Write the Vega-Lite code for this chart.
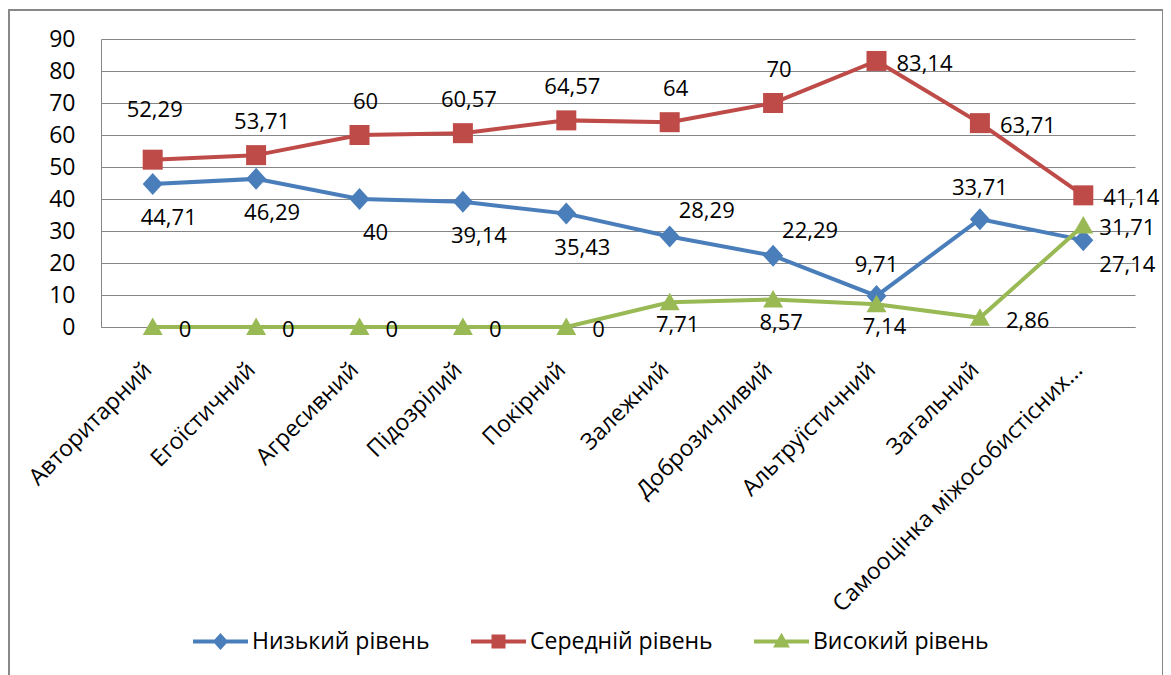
{
  "$schema": "https://vega.github.io/schema/vega-lite/v6.json",
  "width": 1154,
  "height": 700,
  "padding": {"left": 9, "top": 10, "right": 0, "bottom": 0},
  "autosize": {"type": "none"},
  "background": "white",
  "config": {
    "font": "Open Sans",
    "locale": {"number": {"decimal": ",", "thousands": " ", "grouping": [3], "currency": ["", " грн"]}},
    "view": {"stroke": "#888888", "strokeWidth": 2},
    "legend": {"symbolStrokeWidth": 4, "symbolOpacity": 1}
  },
  "data": {
    "values": [
      {"category": "Авторитарний", "level": "Низький рівень", "value": 44.71},
      {"category": "Егоїстичний", "level": "Низький рівень", "value": 46.29},
      {"category": "Агресивний", "level": "Низький рівень", "value": 40},
      {"category": "Підозрілий", "level": "Низький рівень", "value": 39.14},
      {"category": "Покірний", "level": "Низький рівень", "value": 35.43},
      {"category": "Залежний", "level": "Низький рівень", "value": 28.29},
      {"category": "Доброзичливий", "level": "Низький рівень", "value": 22.29},
      {"category": "Альтруїстичний", "level": "Низький рівень", "value": 9.71},
      {"category": "Загальний", "level": "Низький рівень", "value": 33.71},
      {"category": "Самооцінка міжособистісних...", "level": "Низький рівень", "value": 27.14},
      {"category": "Авторитарний", "level": "Середній рівень", "value": 52.29},
      {"category": "Егоїстичний", "level": "Середній рівень", "value": 53.71},
      {"category": "Агресивний", "level": "Середній рівень", "value": 60},
      {"category": "Підозрілий", "level": "Середній рівень", "value": 60.57},
      {"category": "Покірний", "level": "Середній рівень", "value": 64.57},
      {"category": "Залежний", "level": "Середній рівень", "value": 64},
      {"category": "Доброзичливий", "level": "Середній рівень", "value": 70},
      {"category": "Альтруїстичний", "level": "Середній рівень", "value": 83.14},
      {"category": "Загальний", "level": "Середній рівень", "value": 63.71},
      {"category": "Самооцінка міжособистісних...", "level": "Середній рівень", "value": 41.14},
      {"category": "Авторитарний", "level": "Високий рівень", "value": 0},
      {"category": "Егоїстичний", "level": "Високий рівень", "value": 0},
      {"category": "Агресивний", "level": "Високий рівень", "value": 0},
      {"category": "Підозрілий", "level": "Високий рівень", "value": 0},
      {"category": "Покірний", "level": "Високий рівень", "value": 0},
      {"category": "Залежний", "level": "Високий рівень", "value": 7.71},
      {"category": "Доброзичливий", "level": "Високий рівень", "value": 8.57},
      {"category": "Альтруїстичний", "level": "Високий рівень", "value": 7.14},
      {"category": "Загальний", "level": "Високий рівень", "value": 2.86},
      {"category": "Самооцінка міжособистісних...", "level": "Високий рівень", "value": 31.71}
    ]
  },
  "encoding": {
    "x": {
      "field": "category",
      "type": "nominal",
      "sort": null,
      "scale": {"type": "point", "range": [92, 1126], "padding": 0.5},
      "axis": {
        "orient": "bottom",
        "offset": -383,
        "title": null,
        "labelAngle": -45,
        "labelAlign": "right",
        "labelBaseline": "middle",
        "labelPadding": 39,
        "labelOffset": -5,
        "labelFontSize": 23,
        "labelFont": "Open Sans",
        "labelColor": "black",
        "labelLimit": 500,
        "labelOverlap": false,
        "ticks": false,
        "grid": false,
        "domainColor": "#868686",
        "domainWidth": 1
      }
    },
    "y": {
      "field": "value",
      "type": "quantitative",
      "scale": {"domain": [0, 90], "range": [317, 29], "nice": false},
      "axis": {
        "orient": "left",
        "offset": -92,
        "title": null,
        "values": [0, 10, 20, 30, 40, 50, 60, 70, 80, 90],
        "labelFontSize": 23,
        "labelFont": "Open Sans",
        "labelColor": "black",
        "labelPadding": 26,
        "ticks": false,
        "grid": true,
        "gridColor": "#868686",
        "gridWidth": 1,
        "domainColor": "#868686",
        "domainWidth": 1
      }
    }
  },
  "layer": [
    {
      "transform": [{"filter": "datum.level === 'Низький рівень'"}],
      "mark": {"type": "line", "strokeWidth": 4, "color": "#4A7EBB"}
    },
    {
      "transform": [{"filter": "datum.level === 'Середній рівень'"}],
      "mark": {"type": "line", "strokeWidth": 4, "color": "#BE4B48"}
    },
    {
      "transform": [{"filter": "datum.level === 'Високий рівень'"}],
      "mark": {"type": "line", "strokeWidth": 4, "color": "#98B954"}
    },
    {
      "transform": [{"filter": "datum.level === 'Низький рівень'"}],
      "mark": {"type": "point", "filled": true, "size": 400, "opacity": 1, "color": "#4A7EBB", "shape": "M0,-1.1L1,0L0,1.1L-1,0Z"}
    },
    {
      "transform": [{"filter": "datum.level === 'Середній рівень'"}],
      "mark": {"type": "point", "filled": true, "size": 400, "opacity": 1, "color": "#BE4B48", "shape": "M-1,-1H1V1H-1Z"}
    },
    {
      "transform": [{"filter": "datum.level === 'Високий рівень'"}],
      "mark": {"type": "point", "filled": true, "size": 400, "opacity": 1, "color": "#98B954", "shape": "M0,-0.95L1,0.8L-1,0.8Z"}
    },
    {
      "description": "Legend carrier: no rows pass the filter, so only the legend (line with marker) is drawn.",
      "transform": [{"filter": "false"}],
      "mark": {"type": "point", "filled": true, "strokeWidth": 4, "opacity": 1},
      "encoding": {
        "color": {
          "field": "level",
          "type": "nominal",
          "scale": {"domain": ["Низький рівень", "Середній рівень", "Високий рівень"], "range": ["#4A7EBB", "#BE4B48", "#98B954"]},
          "legend": {
            "orient": "none", "legendX": 200, "legendY": 620, "padding": 0, "direction": "horizontal", "title": null,
            "labelFontSize": 23, "labelFont": "Open Sans", "labelColor": "black", "labelLimit": 400,
            "symbolSize": 100, "symbolStrokeWidth": 4, "labelOffset": 20, "columnPadding": 33, "gridAlign": "none"
          }
        },
        "stroke": {
          "field": "level",
          "type": "nominal",
          "scale": {"domain": ["Низький рівень", "Середній рівень", "Високий рівень"], "range": ["#4A7EBB", "#BE4B48", "#98B954"]},
          "legend": {
            "orient": "none", "legendX": 200, "legendY": 620, "padding": 0, "direction": "horizontal", "title": null,
            "labelFontSize": 23, "labelFont": "Open Sans", "labelColor": "black", "labelLimit": 400,
            "symbolSize": 100, "symbolStrokeWidth": 4, "labelOffset": 20, "columnPadding": 33, "gridAlign": "none"
          }
        },
        "shape": {
          "field": "level",
          "type": "nominal",
          "scale": {
            "domain": ["Низький рівень", "Середній рівень", "Високий рівень"],
            "range": [
              "M-5.5,0H5.5M0,-1.1L1,0L0,1.1L-1,0Z",
              "M-5.5,0H5.5M-1,-1H1V1H-1Z",
              "M-5.5,0H5.5M0,-0.95L1,0.8L-1,0.8Z"
            ]
          },
          "legend": {
            "orient": "none", "legendX": 200, "legendY": 620, "padding": 0, "direction": "horizontal", "title": null,
            "labelFontSize": 23, "labelFont": "Open Sans", "labelColor": "black", "labelLimit": 400,
            "symbolSize": 100, "symbolStrokeWidth": 4, "labelOffset": 20, "columnPadding": 33, "gridAlign": "none"
          }
        }
      }
    },
    {
      "transform": [{"filter": "datum.level === 'Низький рівень' && indexof(['Авторитарний','Егоїстичний','Агресивний','Підозрілий','Покірний'], datum.category) >= 0"}],
      "mark": {"type": "text", "align": "center", "baseline": "middle", "dx": 16, "dy": 34, "fontSize": 22, "font": "Open Sans", "color": "black"},
      "encoding": {"text": {"field": "value", "type": "quantitative", "format": ".2~f"}}
    },
    {
      "transform": [{"filter": "datum.level === 'Низький рівень' && indexof(['Залежний','Доброзичливий'], datum.category) >= 0"}],
      "mark": {"type": "text", "align": "center", "baseline": "middle", "dx": 37, "dy": -25, "fontSize": 22, "font": "Open Sans", "color": "black"},
      "encoding": {"text": {"field": "value", "type": "quantitative", "format": ".2~f"}}
    },
    {
      "transform": [{"filter": "datum.level === 'Низький рівень' && indexof(['Альтруїстичний','Загальний'], datum.category) >= 0"}],
      "mark": {"type": "text", "align": "center", "baseline": "middle", "dx": 0, "dy": -31, "fontSize": 22, "font": "Open Sans", "color": "black"},
      "encoding": {"text": {"field": "value", "type": "quantitative", "format": ".2~f"}}
    },
    {
      "transform": [{"filter": "datum.level === 'Низький рівень' && datum.category === 'Самооцінка міжособистісних...'"}],
      "mark": {"type": "text", "align": "left", "baseline": "middle", "dx": 16, "dy": 25, "fontSize": 22, "font": "Open Sans", "color": "black"},
      "encoding": {"text": {"field": "value", "type": "quantitative", "format": ".2~f"}}
    },
    {
      "transform": [{"filter": "datum.level === 'Середній рівень' && datum.category === 'Авторитарний'"}],
      "mark": {"type": "text", "align": "center", "baseline": "middle", "dx": 2, "dy": -50, "fontSize": 22, "font": "Open Sans", "color": "black"},
      "encoding": {"text": {"field": "value", "type": "quantitative", "format": ".2~f"}}
    },
    {
      "transform": [{"filter": "datum.level === 'Середній рівень' && indexof(['Егоїстичний','Агресивний','Підозрілий','Покірний','Залежний','Доброзичливий'], datum.category) >= 0"}],
      "mark": {"type": "text", "align": "center", "baseline": "middle", "dx": 6, "dy": -33, "fontSize": 22, "font": "Open Sans", "color": "black"},
      "encoding": {"text": {"field": "value", "type": "quantitative", "format": ".2~f"}}
    },
    {
      "transform": [{"filter": "datum.level === 'Середній рівень' && indexof(['Альтруїстичний','Загальний','Самооцінка міжособистісних...'], datum.category) >= 0"}],
      "mark": {"type": "text", "align": "left", "baseline": "middle", "dx": 20, "dy": 3, "fontSize": 22, "font": "Open Sans", "color": "black"},
      "encoding": {"text": {"field": "value", "type": "quantitative", "format": ".2~f"}}
    },
    {
      "transform": [{"filter": "datum.level === 'Високий рівень' && indexof(['Авторитарний','Егоїстичний','Агресивний','Підозрілий','Покірний','Загальний'], datum.category) >= 0"}],
      "mark": {"type": "text", "align": "left", "baseline": "middle", "dx": 26, "dy": 3, "fontSize": 22, "font": "Open Sans", "color": "black"},
      "encoding": {"text": {"field": "value", "type": "quantitative", "format": ".2~f"}}
    },
    {
      "transform": [{"filter": "datum.level === 'Високий рівень' && indexof(['Залежний','Доброзичливий','Альтруїстичний'], datum.category) >= 0"}],
      "mark": {"type": "text", "align": "center", "baseline": "middle", "dx": 8, "dy": 23, "fontSize": 22, "font": "Open Sans", "color": "black"},
      "encoding": {"text": {"field": "value", "type": "quantitative", "format": ".2~f"}}
    },
    {
      "transform": [{"filter": "datum.level === 'Високий рівень' && datum.category === 'Самооцінка міжособистісних...'"}],
      "mark": {"type": "text", "align": "left", "baseline": "middle", "dx": 16, "dy": 2, "fontSize": 22, "font": "Open Sans", "color": "black"},
      "encoding": {"text": {"field": "value", "type": "quantitative", "format": ".2~f"}}
    }
  ]
}
